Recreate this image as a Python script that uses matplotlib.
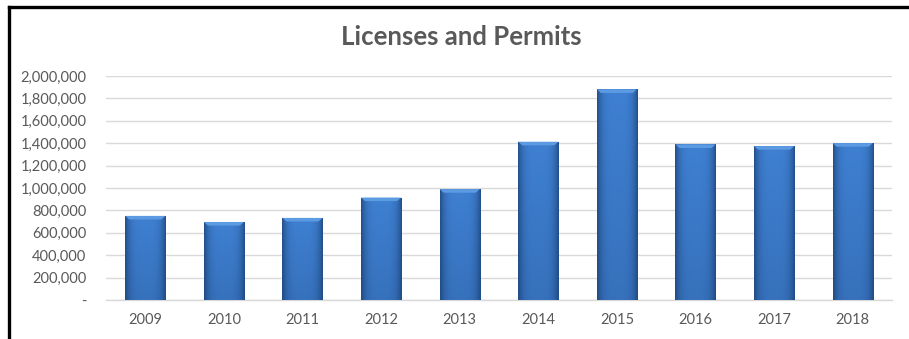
import matplotlib
matplotlib.use("Agg")
import matplotlib.pyplot as plt
import numpy as np
from matplotlib.lines import Line2D
from matplotlib.patches import Polygon
from matplotlib.ticker import FuncFormatter

years = ["2009", "2010", "2011", "2012", "2013", "2014", "2015", "2016", "2017", "2018"]
revenue = [751000, 697000, 733000, 915000, 990000, 1413000, 1881000, 1389000, 1374000, 1401000]
title = "Licenses and Permits"

plt.rcParams["font.family"] = ["Lato", "DejaVu Sans"]
text_color = "#595959"
grid_color = "#D9D9D9"

fig = plt.figure(figsize=(9.09, 3.39), dpi=100)
ax = fig.add_axes([106 / 909, 1 - 300 / 339, 786 / 909, 224 / 339])

x = np.arange(len(years))
width = 0.51
bars = ax.bar(x, revenue, width=width, color="#3A75C4", zorder=2)

# horizontal shading: darker sides, lighter centre; slightly darker toward the base
xs = np.linspace(-1, 1, 200)
shade = 1 - 0.6 * np.abs(xs) ** 4
ys = np.linspace(0, 1, 100)[:, None]
vert = 0.82 + 0.18 * ys
base_dark = np.array([0x22, 0x4E, 0x88]) / 255
base_light = np.array([0x3F, 0x80, 0xD2]) / 255
t = (shade[None, :] * vert)[..., None]
img = base_dark + (base_light - base_dark) * np.clip((t - 0.4) / 0.6, 0, 1)

for rect, val in zip(bars, revenue):
    x0 = rect.get_x()
    w = rect.get_width()
    im = ax.imshow(img, extent=[x0, x0 + w, 0, val], origin="lower",
                   aspect="auto", zorder=3, interpolation="bilinear")
    im.set_clip_path(rect)
    # bevelled top edge
    bev_h = 32000
    inset = w * 0.1
    top = Polygon([[x0, val], [x0 + w, val], [x0 + w - inset, val - bev_h],
                   [x0 + inset, val - bev_h]], closed=True,
                  facecolor="#5C9AE2", edgecolor="none", zorder=4)
    ax.add_patch(top)

ax.set_xlim(-0.5, len(years) - 0.5)
ax.set_ylim(0, 2000000)
ax.set_yticks(np.arange(0, 2000001, 200000))
ax.yaxis.set_major_formatter(FuncFormatter(lambda v, p: "-" if v == 0 else f"{int(v):,}"))
ax.set_xticks(x)
ax.set_xticklabels(years)
ax.tick_params(axis="both", length=0, colors=text_color, labelsize=10.5)
ax.tick_params(axis="y", pad=14)
ax.tick_params(axis="x", pad=9)
ax.grid(axis="y", color=grid_color, linewidth=1.0, zorder=0)
ax.set_axisbelow(True)
for s in ["top", "right", "left"]:
    ax.spines[s].set_visible(False)
ax.spines["bottom"].set_color(grid_color)
ax.spines["bottom"].set_linewidth(1.0)

fig.text(461 / 909, 1 - 37 / 339, title, ha="center", va="center",
         fontsize=18.5, fontweight="bold", color=text_color)

# frame lines around the chart area
fig.add_artist(Line2D([8.5 / 909, 1], [1 - 6.5 / 339, 1 - 6.5 / 339], color="black",
                      linewidth=2.4, transform=fig.transFigure))
fig.add_artist(Line2D([8.5 / 909, 8.5 / 909], [0, 1 - 6.5 / 339], color="black",
                      linewidth=2.4, transform=fig.transFigure))

fig.savefig("out.png", dpi=100, facecolor="white")
